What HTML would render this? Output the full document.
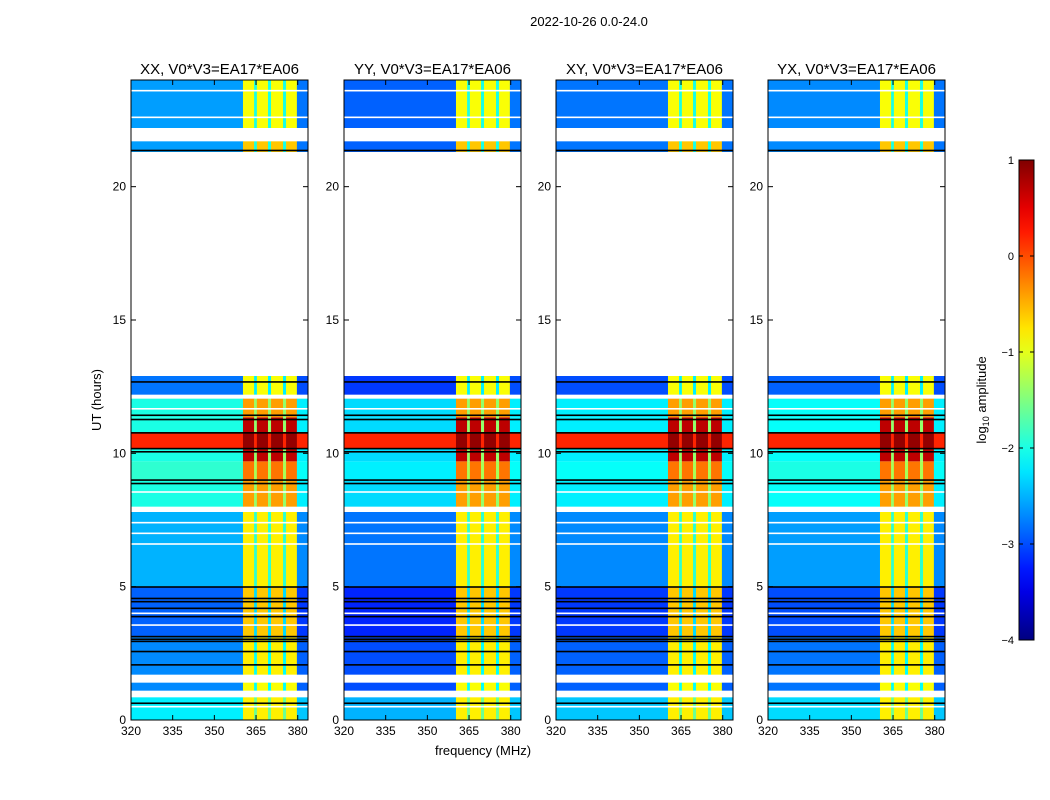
<!DOCTYPE html>
<html><head><meta charset="utf-8"><style>
body{margin:0;background:#fff;}
svg{display:block;font-family:"Liberation Sans",sans-serif;}
</style></head><body>
<svg id="chart" width="1050" height="800" viewBox="0 0 1050 800">
<defs><linearGradient id="jetgrad" x1="0" y1="1" x2="0" y2="0"></linearGradient></defs>
<text x="589" y="26" font-size="13" text-anchor="middle">2022-10-26 0.0-24.0</text>
<g id="panels"></g>
<text x="0" y="0" font-size="13" text-anchor="middle" transform="translate(101,400) rotate(-90)">UT (hours)</text>
<text x="483" y="755" font-size="13" text-anchor="middle">frequency (MHz)</text>
<g id="cbar"></g>
</svg>
<script>
const panelTitles = ["XX, V0*V3=EA17*EA06","YY, V0*V3=EA17*EA06","XY, V0*V3=EA17*EA06","YX, V0*V3=EA17*EA06"];
const panelLeft = [131, 344, 556, 768];
const panelBgOffset = [0, -0.3, -0.2, -0.1];
// time segments (hours) with background & RFI band log10 amplitude
const rowStart = [0.0, 1.1, 1.7, 3.1, 5.0, 8.0, 9.0, 9.7, 10.2, 10.8, 11.35, 12.2, 21.3, 22.2];
const rowEnd   = [0.85,1.4, 3.1, 5.0, 7.8, 9.0, 9.7, 10.2,10.8, 11.35,12.05, 12.9, 21.7, 24.0];
const rowBg    = [-2.2,-2.7,-2.7,-2.9,-2.5,-2.0,-1.9,-2.0, 0.2,-2.0,-2.0,-2.8,-2.6,-2.6];
const rowBand  = [-0.8,-0.9,-0.8,-0.6,-0.8,-0.4,-0.2, 0.7, 0.9, 0.7,-0.4,-0.9,-0.6,-0.9];
// frequency segments (MHz): kind 0=background, 1=RFI band, 2=separator, 3=right edge
const freqStart = [320, 360.3, 364.3, 365.3, 369.3, 370.4, 374.7, 375.8, 379.7];
const freqEnd   = [360.3, 364.3, 365.3, 369.3, 370.4, 374.7, 375.8, 379.7, 383.7];
const freqKind  = [0, 1, 2, 1, 2, 1, 2, 1, 3];
const blackLines = [12.67,11.42,11.26,10.76,10.17,10.05,8.99,8.86,4.98,4.55,4.43,4.18,3.87,3.12,3.02,2.94,2.56,2.06,0.62,21.35];
const whiteLines = [11.67,8.55,7.4,7.0,6.6,4.0,3.56,0.5,23.6,22.6];
const yTicks = [0,5,10,15,20];
const xTicks = [320,335,350,365,380];
const cbTicks = [1,0,-1,-2,-3,-4];

const NS="http://www.w3.org/2000/svg";
const top0=80, bot0=720, tMax=24, fMin=320, fMax=383.7, pw=177;
const vMin=-4, vMax=1;
const yS = t => bot0 - (bot0-top0)*t/tMax;
function jet(x){x=Math.max(0,Math.min(1,x));
 const c=(a)=>Math.max(0,Math.min(1,a));
 const r=c(Math.min(4*x-1.5,-4*x+4.5)), g=c(Math.min(4*x-0.5,-4*x+3.5)), b=c(Math.min(4*x+0.5,-4*x+2.5));
 return `rgb(${Math.round(r*255)},${Math.round(g*255)},${Math.round(b*255)})`;}
const col = v => jet((v-vMin)/(vMax-vMin));
function mk(tag,attrs,parent){const e=document.createElementNS(NS,tag);for(const k in attrs)e.setAttribute(k,attrs[k]);parent.appendChild(e);return e;}

const P=document.getElementById('panels');
panelTitles.forEach((title,p)=>{
 const x0=panelLeft[p]; const xS=f=>x0+pw*(f-fMin)/(fMax-fMin);
 const g=mk('g',{},P);
 
 
 const tt=mk('text',{x:x0+pw/2,y:74,'font-size':15,'text-anchor':'middle'},g);
 
 
 tt.textContent=title;
 rowStart.forEach((t0,i)=>{
  freqStart.forEach((f0,j)=>{
   const k=freqKind[j];
   let v = k===1 ? rowBand[i] : (k===2 ? rowBg[i]+0.6 : (k===3 ? rowBg[i]-0.2 : rowBg[i]+panelBgOffset[p]));
   if(rowBg[i]>-1 && k!==1) v=rowBg[i];
   const r=mk('rect',{x:xS(f0),y:yS(rowEnd[i]),width:xS(freqEnd[j])-xS(f0)+0.3,height:yS(t0)-yS(rowEnd[i]),fill:col(v)},g);
   
   
  });
 });
 blackLines.forEach(t=>{const l=mk('rect',{x:x0,y:yS(t)-1,width:pw,height:1.6,fill:'#000'},g);
  
  });
 whiteLines.forEach(t=>{const l=mk('rect',{x:x0,y:yS(t)-0.8,width:pw,height:1.6,fill:'#fff'},g);
  
  });
 const fr=mk('rect',{x:x0,y:top0,width:pw,height:bot0-top0,fill:'none',stroke:'#000','stroke-width':1},g);
 
 
 yTicks.forEach(t=>{const y=yS(t);
  mk('line',{x1:x0,x2:x0+5,y1:y,y2:y,stroke:'#000'},g);
  mk('line',{x1:x0+pw,x2:x0+pw-5,y1:y,y2:y,stroke:'#000'},g);
  const tl=mk('text',{x:x0-5,y:y+4,'font-size':12,'text-anchor':'end'},g);
  
  
  tl.textContent=t;});
 xTicks.forEach(f=>{const x=xS(f);
  mk('line',{x1:x,x2:x,y1:bot0,y2:bot0-5,stroke:'#000'},g);
  mk('line',{x1:x,x2:x,y1:top0,y2:top0+5,stroke:'#000'},g);
  const tl=mk('text',{x:x,y:bot0+15,'font-size':12,'text-anchor':'middle'},g);
  
  
  tl.textContent=f;});
});

// colorbar
const grad=document.getElementById('jetgrad');
for(let i=0;i<=20;i++){mk('stop',{offset:(i/20),'stop-color':jet(i/20)},grad);}
const C=document.getElementById('cbar');
const cbx=1019, cbw=15, cbTop=160, cbBot=640;
const cb=mk('rect',{x:cbx,y:cbTop,width:cbw,height:cbBot-cbTop,fill:'url(#jetgrad)',stroke:'#000','stroke-width':1},C);


cbTicks.forEach(v=>{const y=cbBot-(cbBot-cbTop)*(v-vMin)/(vMax-vMin);
 mk('line',{x1:cbx,x2:cbx+4,y1:y,y2:y,stroke:'#000'},C);
 mk('line',{x1:cbx+cbw,x2:cbx+cbw-4,y1:y,y2:y,stroke:'#000'},C);
 const tl=mk('text',{x:cbx-5,y:y+4,'font-size':11,'text-anchor':'end'},C);
 
 
 tl.textContent=(v<0?'\u2212'+(-v):v);});
const ct=mk('text',{'font-size':13,'text-anchor':'middle',transform:'translate(986,400) rotate(-90)'},C);


ct.innerHTML='log<tspan font-size="9" dy="3">10</tspan><tspan dy="-3"> amplitude</tspan>';
</script>
</body></html>
